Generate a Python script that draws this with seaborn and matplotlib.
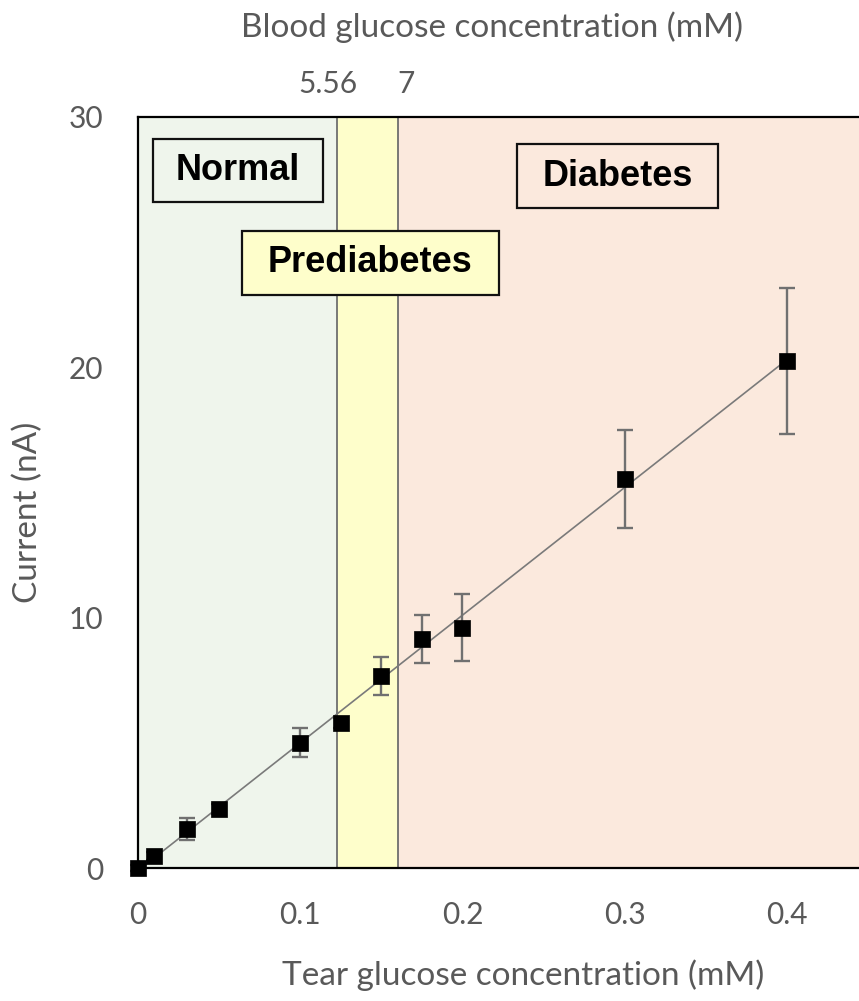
import numpy as np
import pandas as pd
import matplotlib
matplotlib.use("Agg")
import matplotlib.pyplot as plt
import seaborn as sns
from matplotlib.patches import Rectangle

# Calibration data: tear glucose vs. sensor current
tear_glucose = [0, 0.01, 0.03, 0.05, 0.1, 0.125, 0.15, 0.175, 0.2, 0.3, 0.4]
current = [0, 0.48, 1.55, 2.36, 5.0, 5.8, 7.68, 9.15, 9.6, 15.55, 20.25]
current_err = [0.1, 0.15, 0.45, 0.2, 0.58, 0.2, 0.75, 0.97, 1.35, 1.95, 2.92]

# Diagnostic thresholds (tear scale) and their blood-glucose equivalents
tear_thresholds = [0.1226, 0.160]
blood_labels = ["5.56", "7"]
region_names = ["Normal", "Prediabetes", "Diabetes"]
region_colors = ["#EFF5EC", "#FEFECB", "#FBE9DD"]
x_ticks = [0, 0.1, 0.2, 0.3, 0.4]
x_ticklabels = ["0", "0.1", "0.2", "0.3", "0.4"]
y_ticks = [0, 10, 20, 30]

df = pd.DataFrame({"tear": tear_glucose, "current": current, "err": current_err})

sns.set_style("white")
plt.rcParams["font.family"] = ["Lato", "DejaVu Sans"]
GRAY = "#595959"
TICK_FS = 21.5
LABEL_FS = 24

W, H = 859, 1001
fig = plt.figure(figsize=(W / 100, H / 100), dpi=100)
ax = fig.add_axes([138 / W, 133 / H, 721 / W, 751 / H])

xmax = 0.4444
ax.set_xlim(0, xmax)
ax.set_ylim(0, 30)

# Shaded diagnostic regions
bounds = [0] + tear_thresholds + [xmax]
for i, c in enumerate(region_colors):
    ax.axvspan(bounds[i], bounds[i + 1], color=c, lw=0, zorder=0)
for t in tear_thresholds:
    ax.axvline(t, color="#6E6E6E", lw=1.3, zorder=1)

# Linear fit through the calibration points
sns.regplot(data=df, x="tear", y="current", scatter=False, ci=None, truncate=True,
            line_kws=dict(color="#7A7A7A", lw=1.2, zorder=2), ax=ax)

# Error bars and markers
ax.errorbar(df["tear"], df["current"], yerr=df["err"], fmt="none", ecolor="#707070",
            elinewidth=1.7, capsize=5.5, capthick=1.7, zorder=3, clip_on=False)
sns.scatterplot(data=df, x="tear", y="current", marker="s", s=118, color="black",
                edgecolor="black", linewidth=0.5, zorder=4, clip_on=False, ax=ax)

# Region label boxes (axes fraction)
boxes = [(0.0208, 0.8868, 0.2358, 0.0839),
         (0.1442, 0.7630, 0.3565, 0.0852),
         (0.5257, 0.8788, 0.2788, 0.0852)]
for (x0, y0, w, h), name, c in zip(boxes, region_names, region_colors):
    ax.add_patch(Rectangle((x0, y0), w, h, transform=ax.transAxes, facecolor=c,
                           edgecolor="#111111", lw=1.6, zorder=5))
    ax.text(x0 + w / 2, y0 + h / 2, name, transform=ax.transAxes, ha="center",
            va="center", fontsize=26, fontweight="bold", family="Liberation Sans",
            color="black", zorder=6)

# Axes styling
for s in ["left", "top", "bottom"]:
    ax.spines[s].set_visible(True)
    ax.spines[s].set_color("black")
    ax.spines[s].set_linewidth(1.6)
ax.spines["right"].set_visible(False)
ax.set_xticks(x_ticks)
ax.set_xticklabels(x_ticklabels)
ax.set_yticks(y_ticks)
ax.tick_params(axis="both", length=0, labelsize=TICK_FS, labelcolor=GRAY)
ax.tick_params(axis="y", pad=25)
ax.tick_params(axis="x", pad=24)
ax.set_xlabel("")
ax.set_ylabel("")

fig.text(523 / W, 1 - 975 / H, "Tear glucose concentration (mM)", ha="center",
         va="center", fontsize=LABEL_FS, color=GRAY)
fig.text(28 / W, 1 - 512 / H, "Current (nA)", ha="center", va="center",
         rotation=90, fontsize=LABEL_FS, color=GRAY)
fig.text(492 / W, 1 - 27 / H, "Blood glucose concentration (mM)", ha="center",
         va="center", fontsize=LABEL_FS, color=GRAY)
for lbl, px in zip(blood_labels, [328, 406]):
    fig.text(px / W, 1 - 84 / H, lbl, ha="center", va="center", fontsize=TICK_FS,
             color=GRAY)

fig.savefig("out.png", dpi=100)
